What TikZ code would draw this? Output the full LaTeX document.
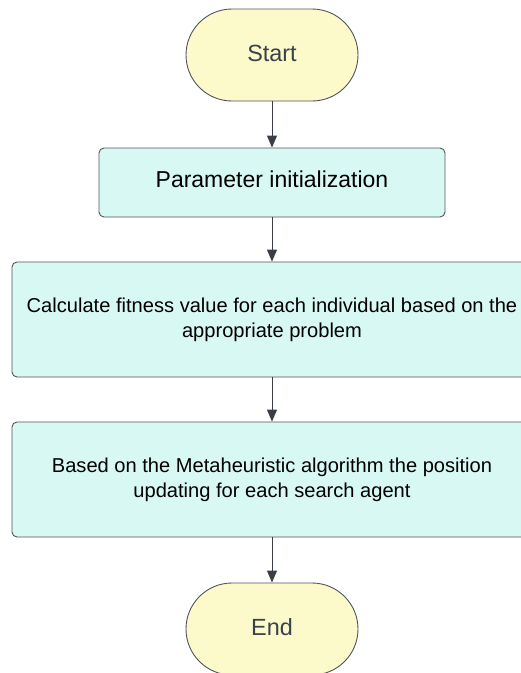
\documentclass[tikz,border=0pt]{standalone}
\usepackage{fontspec}
\setmainfont{Liberation Sans}
\usetikzlibrary{arrows.meta}
\definecolor{termfill}{HTML}{FCF9CB}
\definecolor{procfill}{HTML}{D8F8F3}
\definecolor{edgegray}{HTML}{50555C}
\definecolor{arrowdark}{HTML}{3A3F47}
\definecolor{termtext}{HTML}{3A414A}
\tikzset{
  term/.style={draw=edgegray, line width=0.9pt, fill=termfill, rounded corners=46pt,
    minimum width=172pt, minimum height=92pt, inner sep=0pt, text=termtext,
    text height=17pt, text depth=4pt,
    font=\fontsize{23.4}{28}\selectfont},
  proc/.style={draw=edgegray, line width=0.9pt, fill=procfill, rounded corners=5pt,
    inner sep=0pt, align=center, text=black},
  conn/.style={draw=arrowdark, line width=1pt, -{Triangle[length=12pt,width=10pt]}}
}
\begin{document}
\begin{tikzpicture}[x=1pt,y=1pt]
\useasboundingbox (0,0) rectangle (521,-673);
\clip (0,0) rectangle (521,-673);
\node[term] (start) at (272,-55) {Start};
\node[proc, minimum width=346pt, minimum height=69pt, text height=17pt, text depth=7.5pt, font=\fontsize{23}{27}\selectfont] (param) at (272,-182.5) {Parameter initialization};
\node[proc, minimum width=520pt, minimum height=115pt, font=\fontsize{20.1}{25}\selectfont] (calc) at (272,-319.5) {Calculate fitness value for each individual based on the\\appropriate problem};
\node[proc, minimum width=520pt, minimum height=115pt, font=\fontsize{20.1}{25}\selectfont] (pos) at (272,-479.5) {Based on the Metaheuristic algorithm the position\\updating for each search agent};
\node[term] (end) at (272,-629) {End};
\draw[conn] (start) -- (param);
\draw[conn] (param) -- (calc);
\draw[conn] (calc) -- (pos);
\draw[conn] (pos) -- (end);
\end{tikzpicture}
\end{document}
